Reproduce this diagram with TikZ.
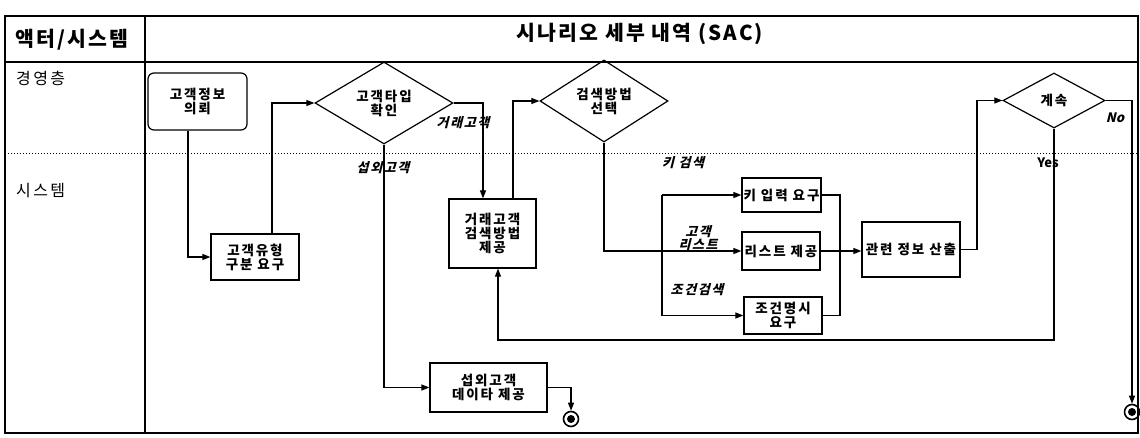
\documentclass[tikz,border=0pt]{standalone}
\usepackage{fontspec}
\setmainfont{Noto Sans CJK KR}
\newfontfamily\slfont[FakeSlant=0.25,LetterSpace=12]{Noto Sans CJK KR}
\newfontfamily\slnfont[FakeSlant=0.25]{Noto Sans CJK KR}
\newfontfamily\bxfont[LetterSpace=14]{Noto Sans CJK KR}
\newfontfamily\hdfont[LetterSpace=10]{Noto Sans CJK KR}
\newfontfamily\lnfont[LetterSpace=15]{Noto Sans CJK KR}
\usetikzlibrary{shapes.geometric,arrows.meta}
\begin{document}
\begin{tikzpicture}[x=1pt,y=-1pt,
  box/.style={draw, line width=1.2pt, align=center, inner sep=0pt,
     font=\fontsize{13.5}{14}\bxfont\bfseries},
  dia/.style={draw, diamond, line width=1.2pt, align=center, inner sep=0pt,
     font=\fontsize{13.5}{14}\bxfont\bfseries},
  conn/.style={line width=1.1pt},
  arr/.style={line width=1.1pt, -{Triangle[length=8pt,width=6pt]}},
  lbl/.style={font=\fontsize{13}{13}\slfont\bfseries, align=center, inner sep=0pt},
  endpt/.style={circle, draw, line width=1.6pt, minimum size=15pt, inner sep=0pt},
  hdr/.style={font=\fontsize{20.5}{22}\hdfont\bfseries, inner sep=0pt},
  lane/.style={font=\fontsize{16}{18}\lnfont, inner sep=0pt, anchor=west}
]
\useasboundingbox (0,0) rectangle (1140,437);
% frame
\draw[line width=1.6pt] (5,16) rectangle (1138,433);
\draw[line width=2pt] (5,62) -- (1138,62);
\draw[line width=2.5pt] (145,16) -- (145,433);
\draw[dotted, line width=1pt] (8,153) -- (1138,153);
\node[hdr] (h1) at (72,40) {액터/시스템};
\node[hdr] (h2) at (640,34) {시나리오 세부 내역 (SAC)};
\node[lane] (l1) at (16,78) {경영층};
\node[lane] (l2) at (16,191) {시스템};

% nodes
\node[box, rounded corners=6pt, minimum width=99pt, minimum height=57pt] (q1) at (197.5,101.5) {고객정보\\의뢰};
\node[box, minimum width=88pt, minimum height=46pt] (b2) at (255,257) {고객유형\\구분 요구};
\node[dia, minimum width=138pt, minimum height=69pt] (d1) at (384,103) {고객타입\\확인};
\node[box, minimum width=87pt, minimum height=69pt] (b3) at (492.5,233.5) {거래고객\\검색방법\\제공};
\node[box, minimum width=117pt, minimum height=49pt] (b4) at (488.5,387.5) {섭외고객\\데이타 제공};
\node[dia, minimum width=128pt, minimum height=70pt] (d2) at (604,101) {검색방법\\선택};
\node[box, minimum width=79pt, minimum height=34pt] (b5) at (781.5,195) {키 입력 요구};
\node[box, minimum width=78pt, minimum height=38pt] (b6) at (781,251) {리스트 제공};
\node[box, minimum width=78pt, minimum height=37pt] (b7) at (783,315.5) {조건명시\\요구};
\node[box, minimum width=98pt, minimum height=55pt] (b8) at (911,249.5) {관련 정보 산출};
\node[dia, minimum width=102pt, minimum height=55pt] (d3) at (1054,100.5) {계속};
\node[endpt] (e1) at (571,419) {};
\fill (e1) circle (4pt);
\node[endpt] (e2) at (1132,412) {};
\fill (e2) circle (4pt);

% helper coordinates
\coordinate (sx) at (662,0);
\coordinate (mx) at (840,0);
\coordinate (cx) at (977,0);
\coordinate (lp) at (498,340);

% connectors
\draw[arr] ([xshift=-9.5pt]q1.south) |- (b2.west);
\draw[arr] ([xshift=17pt]b2.north) |- (d1.west);
\draw[arr] (d1.east) -| ([xshift=-9.5pt]b3.north);
\draw[arr] (d1.south) |- (b4.west);
\draw[arr] (b4.east) -| (e1.north);
\draw[arr] ([xshift=20.5pt]b3.north) |- (d2.west);
\draw[arr] (d2.south) |- (b6.west);
\draw[conn] (sx |- b5.west) -- (sx |- b7.west);
\draw[arr] (sx |- b5.west) -- (b5.west);
\draw[arr] (sx |- b7.west) -- (b7.west);
\draw[conn] (b5.east) -| (mx |- b7.east) -- (b7.east);
\draw[arr] (b6.east) -- (b8.west |- b6.east);
\draw[arr] (b8.east) -- (cx |- b8.east) |- (d3.west);
\draw[arr] (d3.south) |- (lp) -- (lp |- b3.south);
\draw[arr] (d3.east) -| (e2.north);

% labels
\node[lbl] (t1) at (463,123) {거래고객};
\node[lbl] (t2) at (383,168) {섭외고객};
\node[lbl] (t3) at (683,163) {키 검색};
\node[lbl] (t4) at (698,238) {고객\\리스트};
\node[lbl] (t5) at (697,290) {조건검색};
\node[font=\fontsize{13}{13}\selectfont\bfseries, inner sep=0pt] (t6) at (1048,163) {Yes};
\node[font=\fontsize{13}{13}\slnfont\bfseries, inner sep=0pt] (t7) at (1115,118) {No};
\end{tikzpicture}
\end{document}
